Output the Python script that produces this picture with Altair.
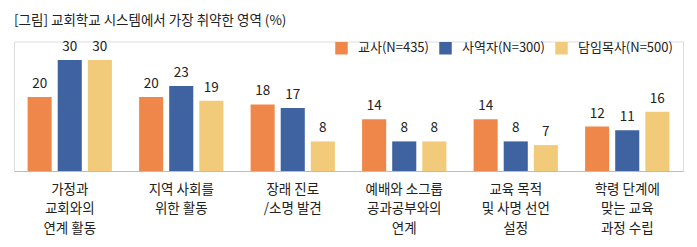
import altair as alt
import pandas as pd

categories = ["가정과\n교회와의\n연계 활동", "지역 사회를\n위한 활동", "장래 진로\n/소명 발견",
              "예배와 소그룹\n공과공부와의\n연계", "교육 목적\n및 사명 선언\n설정", "학령 단계에\n맞는 교육\n과정 수립"]
series = ["교사(N=435)", "사역자(N=300)", "담임목사(N=500)"]
teachers = [20, 20, 18, 14, 14, 12]
ministers = [30, 23, 17, 8, 8, 11]
pastors = [30, 19, 8, 8, 7, 16]
colors = ["#F0874A", "#3F62A0", "#F2CB7A"]

rows = []
for vals, s in zip([teachers, ministers, pastors], series):
    for c, v in zip(categories, vals):
        rows.append({"cat": c, "series": s, "value": v})
df = pd.DataFrame(rows)

FONT = "Noto Sans CJK KR"
FS = 13.5
H = 129.5

base = alt.Chart(df).encode(
    x=alt.X("cat:N", sort=categories, title=None,
            scale=alt.Scale(paddingInner=0.19, paddingOuter=0.095),
            axis=alt.Axis(labelExpr="split(datum.label, '\\n')", labelAngle=0,
                          labelFont=FONT, labelFontSize=FS, labelColor="#222",
                          labelLineHeight=19.5, labelPadding=18, ticks=False,
                          domainColor="#bbbbbb", labelBaseline="middle")),
    xOffset=alt.XOffset("series:N", sort=series,
                        scale=alt.Scale(paddingInner=0.2, paddingOuter=0.1)),
    y=alt.Y("value:Q", scale=alt.Scale(domain=[0, 35]), axis=None),
)

bars = base.mark_bar().encode(
    color=alt.Color("series:N", sort=series,
                    scale=alt.Scale(domain=series, range=colors),
                    legend=alt.Legend(title=None, orient="none", direction="horizontal",
                                      legendX=321, legendY=0, symbolType="square",
                                      symbolSize=156, symbolStrokeWidth=0,
                                      labelFont=FONT, labelFontSize=13, labelColor="#222",
                                      labelOffset=10, columnPadding=10))
)
labels = base.mark_text(baseline="bottom", dy=-6, font=FONT, fontSize=FS, color="#222").encode(
    text="value:Q")

chart = (bars + labels).properties(
    width=669, height=H,
    title=alt.Title("[그림] 교회학교 시스템에서 가장 취약한 영역 (%)", anchor="start", frame="group",
                    font=FONT, fontSize=FS, fontWeight="normal", color="#222", offset=13),
    padding={"left": 14, "top": 171 - H, "right": 14, "bottom": 76},
    autosize="none",
).configure_view(stroke=None).configure(background="white")

chart.save("out.html", embed_options={"renderer": "svg", "actions": False})
